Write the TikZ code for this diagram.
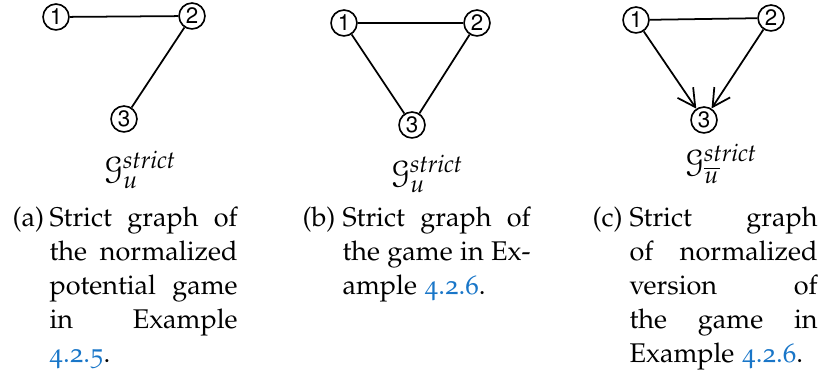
\documentclass[tikz,border=0pt]{standalone}
\usepackage[T1]{fontenc}
\usepackage[osf]{mathpazo}
\usepackage[mathcal]{euscript}
\usepackage[scaled=0.92]{helvet}
\usetikzlibrary{arrows.meta}
\definecolor{refblue}{RGB}{25,118,200}
\tikzset{
  vert/.style={circle,draw,line width=0.6pt,minimum size=9.6pt,inner sep=0pt,
    font=\fontsize{9pt}{10pt}\sffamily},
  edge/.style={line width=0.65pt},
  arr/.style={edge,-{Straight Barb[length=6.5pt,width=7pt,line width=0.65pt]}},
  glabel/.style={anchor=base,inner sep=0pt,font=\fontsize{12pt}{14pt}\selectfont},
  sublabel/.style={anchor=base west,inner sep=0pt,font=\fontsize{10pt}{12.58pt}\selectfont},
  captext/.style={anchor=base west,inner sep=0pt,font=\fontsize{10pt}{12.58pt}\selectfont}
}
\newcommand{\capbox}[1]{\parbox[t]{69.6pt}{\fontsize{10pt}{12.58pt}\selectfont #1}}
\newcommand{\refnum}[1]{\textcolor{refblue}{#1}}
\begin{document}
\begin{tikzpicture}[x=0.37pt,y=-0.37pt]
\useasboundingbox (0,0) rectangle (823,374);
% (a)
\node[vert] (a1) at (56,17) {1};
\node[vert] (a2) at (192,16) {2};
\node[vert] (a3) at (124,119) {3};
\draw[edge] (a1) -- (a2);
\draw[edge] (a2) -- (a3);
\node[glabel] (ga) at (140,180) {$\mathcal{G}_{u}^{\mathit{strict}}$};
\node[sublabel] (la) at (12,227) {(a)};
\node[captext] (ca) at (49,227) {\capbox{Strict graph of\linebreak the normalized\linebreak potential game\linebreak in Example\linebreak \refnum{4.2.5}.}};
% (b)
\node[vert] (b1) at (344,23) {1};
\node[vert] (b2) at (477,23) {2};
\node[vert] (b3) at (412,125) {3};
\draw[edge] (b1) -- (b2);
\draw[edge] (b1) -- (b3);
\draw[edge] (b2) -- (b3);
\node[glabel] (gb) at (427,184) {$\mathcal{G}_{u}^{\mathit{strict}}$};
\node[sublabel] (lb) at (302,227) {(b)};
\node[captext] (cb) at (342,227) {\capbox{Strict graph of\linebreak the game in Ex-\linebreak ample \refnum{4.2.6}.}};
% (c)
\node[vert] (c1) at (636,20) {1};
\node[vert] (c2) at (771,18) {2};
\node[vert] (c3) at (704,120) {3};
\draw[edge] (c1) -- (c2);
\draw[arr] (c1) -- (c3);
\draw[arr] (c2) -- (c3);
\node[glabel] (gc) at (721,173) {$\mathcal{G}_{\overline{u}}^{\mathit{strict}}$};
\node[sublabel] (lc) at (592,227) {(c)};
\node[captext] (cc) at (629,227) {\capbox{Strict graph\linebreak of normalized\linebreak version of\linebreak the game in\linebreak Example \refnum{4.2.6}.}};
\end{tikzpicture}
\end{document}
